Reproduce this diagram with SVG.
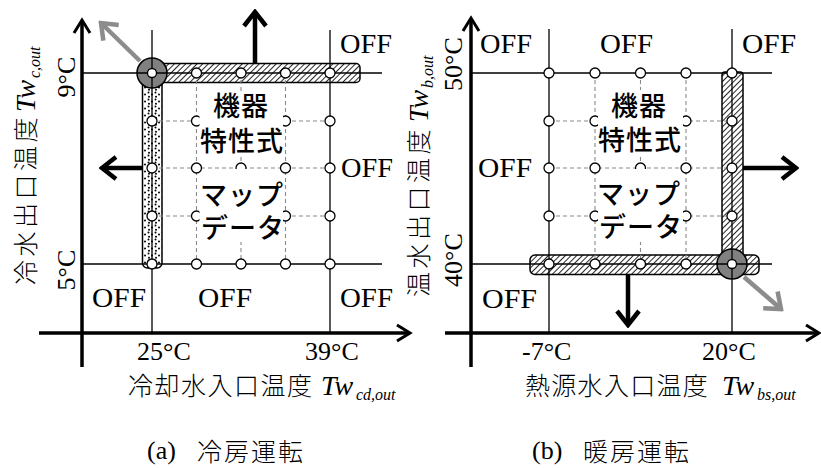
<svg xmlns="http://www.w3.org/2000/svg" width="821" height="468" viewBox="0 0 821 468">
<style>
.axis{stroke:#000;stroke-width:3.5;fill:none}
.ahd{stroke:#000;stroke-width:3;fill:none;stroke-linejoin:miter}
.grid{stroke:#000;stroke-width:1.3;fill:none}
.dash{stroke:#8a8a8a;stroke-width:1.1;stroke-dasharray:4 3;fill:none}
.pt{fill:#fff;stroke:#000;stroke-width:1.3}
.bar{stroke:#000;stroke-width:1.5}
.big{fill:#808080;stroke:#000;stroke-width:1.5}
.box{fill:#fff}
.arr{stroke:#000;stroke-width:4.5;fill:none}
.garr{stroke:#8c8c8c;stroke-width:4.5;fill:none}
.num{font-family:"Liberation Serif",serif;font-size:26px;fill:#000}
.off{font-family:"Liberation Serif",serif;font-size:27px;fill:#000}
.jp{font-family:"Noto Sans CJK JP",sans-serif;font-size:25px;font-weight:300;fill:#000}
.in{font-family:"Noto Sans CJK JP",sans-serif;font-size:27px;font-weight:500;fill:#000;text-anchor:middle}
.it{font-family:"Liberation Serif",serif;font-style:italic;font-size:28px;fill:#000}
.sub{font-family:"Liberation Serif",serif;font-style:italic;font-size:16px;fill:#000}
</style>
<defs>
<pattern id="hatch" width="4" height="4" patternUnits="userSpaceOnUse" patternTransform="rotate(45)">
<rect width="4" height="4" fill="#fff"/>
<line x1="0" y1="0" x2="0" y2="4" stroke="#000" stroke-width="1.7"/>
</pattern>
<pattern id="dots" width="7" height="7" patternUnits="userSpaceOnUse">
<rect width="7" height="7" fill="#fff"/>
<circle cx="1.5" cy="1.5" r="1" fill="#000"/>
<circle cx="5" cy="3.5" r="1" fill="#000"/>
<circle cx="2" cy="5.8" r="1" fill="#000"/>
</pattern>
<marker id="ah" viewBox="-17 -13 20 26" refX="0" refY="0" markerWidth="20" markerHeight="26" markerUnits="userSpaceOnUse" orient="auto">
<path d="M-14,-11 L0,0 L-14,11" fill="none" stroke="#000" stroke-width="4.5"/>
</marker>
<marker id="gah" viewBox="-17 -13 20 26" refX="0" refY="0" markerWidth="20" markerHeight="26" markerUnits="userSpaceOnUse" orient="auto">
<path d="M-14,-11 L0,0 L-14,11" fill="none" stroke="#8c8c8c" stroke-width="4.5"/>
</marker>
</defs>

<!-- Panel (a) -->
<g id="panel-a">
<g id="a-bars">
<rect class="bar" x="150" y="63.5" width="210" height="19" rx="4" fill="url(#hatch)"/>
<rect class="bar" x="142.5" y="80" width="19.5" height="188" rx="5" fill="url(#dots)"/>
<circle class="big" cx="152" cy="73" r="15"/>
</g>
<g id="a-axes">
<line class="axis" x1="82" y1="367" x2="82" y2="22"/>
<path class="ahd" d="M74,33 L82,20 L90,33"/>
<line class="axis" x1="39" y1="333" x2="408" y2="333"/>
<path class="ahd" d="M397,325 L410,333 L397,341"/>
</g>
<g id="a-grid">
<line class="grid" x1="152" y1="30" x2="152" y2="333"/>
<line class="grid" x1="330" y1="30" x2="330" y2="333"/>
<line class="grid" x1="82" y1="73" x2="382" y2="73"/>
<line class="grid" x1="82" y1="264" x2="382" y2="264"/>
<path class="dash" d="M152,121H330M152,168H330M152,216H330M196.5,73V264M241,73V264M285.5,73V264"/>
</g>
<g id="a-points">
<circle class="pt" cx="152" cy="73" r="4.5"/>
<circle class="pt" cx="196.5" cy="73" r="5"/><circle class="pt" cx="241" cy="73" r="5"/><circle class="pt" cx="285.5" cy="73" r="5"/><circle class="pt" cx="330" cy="73" r="5"/>
<circle class="pt" cx="152" cy="121" r="5"/><circle class="pt" cx="196.5" cy="121" r="5"/><circle class="pt" cx="241" cy="121" r="5"/><circle class="pt" cx="285.5" cy="121" r="5"/><circle class="pt" cx="330" cy="121" r="5"/>
<circle class="pt" cx="152" cy="168" r="5"/><circle class="pt" cx="196.5" cy="168" r="5"/><circle class="pt" cx="241" cy="168" r="5"/><circle class="pt" cx="285.5" cy="168" r="5"/><circle class="pt" cx="330" cy="168" r="5"/>
<circle class="pt" cx="152" cy="216" r="5"/><circle class="pt" cx="196.5" cy="216" r="5"/><circle class="pt" cx="241" cy="216" r="5"/><circle class="pt" cx="285.5" cy="216" r="5"/><circle class="pt" cx="330" cy="216" r="5"/>
<circle class="pt" cx="152" cy="264" r="5"/><circle class="pt" cx="196.5" cy="264" r="5"/><circle class="pt" cx="241" cy="264" r="5"/><circle class="pt" cx="285.5" cy="264" r="5"/><circle class="pt" cx="330" cy="264" r="5"/>
</g>
<g id="a-labels">
<rect class="box" x="199.5" y="91" width="83.5" height="66"/>
<rect class="box" x="203" y="169" width="77" height="42"/>
<rect class="box" x="199.5" y="211" width="83.5" height="31"/>
<text class="in" x="241" y="116" letter-spacing="1">機器</text>
<text class="in" x="242" y="151" letter-spacing="1">特性式</text>
<text class="in" x="242" y="205" letter-spacing="1">マップ</text>
<text class="in" x="243" y="238" letter-spacing="1">データ</text>
</g>
<g id="a-arrows">
<line class="arr" x1="255" y1="63" x2="255" y2="12" marker-end="url(#ah)"/>
<line class="arr" x1="142" y1="168" x2="102" y2="168" marker-end="url(#ah)"/>
<line class="garr" x1="140" y1="61" x2="101" y2="23" marker-end="url(#gah)"/>
</g>
<g id="a-text">
<text class="off" x="340" y="53" textLength="52" lengthAdjust="spacingAndGlyphs">OFF</text>
<text class="off" x="341" y="177" textLength="52" lengthAdjust="spacingAndGlyphs">OFF</text>
<text class="off" x="92" y="307" textLength="54" lengthAdjust="spacingAndGlyphs">OFF</text>
<text class="off" x="198" y="307" textLength="54" lengthAdjust="spacingAndGlyphs">OFF</text>
<text class="off" x="340" y="307" textLength="53" lengthAdjust="spacingAndGlyphs">OFF</text>
<text class="num" x="137" y="360">25°C</text>
<text class="num" x="305" y="360">39°C</text>
<text class="num" transform="translate(75,77) rotate(-90)" text-anchor="middle">9°C</text>
<text class="num" transform="translate(75,270) rotate(-90)" text-anchor="middle">5°C</text>
<text class="jp" x="128" y="395" letter-spacing="1.5">冷却水入口温度</text>
<text class="it" x="321" y="395">Tw</text>
<text class="sub" x="356" y="400">cd,out</text>
<g transform="translate(35,285) rotate(-90)">
<text class="jp" x="0" y="0" letter-spacing="3.5">冷水出口温度</text>
<text class="it" x="173" y="0">Tw</text>
<text class="sub" x="207" y="5">c,out</text>
</g>
<text class="num" x="147" y="459">(a)</text>
<text class="jp" x="197" y="461" letter-spacing="2">冷房運転</text>
</g>
</g>

<!-- Panel (b) -->
<g id="panel-b">
<g id="b-bars">
<rect class="bar" x="722" y="72" width="21" height="190" rx="3" fill="url(#hatch)"/>
<rect class="bar" x="530" y="255" width="229" height="19.5" rx="5" fill="url(#hatch)"/>
<circle class="big" cx="732" cy="264" r="15"/>
</g>
<g id="b-axes">
<line class="axis" x1="471" y1="367" x2="471" y2="20"/>
<path class="ahd" d="M463,31 L471,18 L479,31"/>
<line class="axis" x1="445" y1="333" x2="817" y2="333"/>
<path class="ahd" d="M806,325 L819,333 L806,341"/>
</g>
<g id="b-grid">
<line class="grid" x1="549" y1="29" x2="549" y2="333"/>
<line class="grid" x1="732" y1="29" x2="732" y2="333"/>
<line class="grid" x1="471" y1="73" x2="772" y2="73"/>
<line class="grid" x1="471" y1="264" x2="772" y2="264"/>
<path class="dash" d="M549,121H732M549,168H732M549,216H732M595,73V264M640.5,73V264M686,73V264"/>
</g>
<g id="b-points">
<circle class="pt" cx="549" cy="73" r="5"/><circle class="pt" cx="595" cy="73" r="5"/><circle class="pt" cx="640.5" cy="73" r="5"/><circle class="pt" cx="686" cy="73" r="5"/><circle class="pt" cx="732" cy="73" r="5"/>
<circle class="pt" cx="549" cy="121" r="5"/><circle class="pt" cx="595" cy="121" r="5"/><circle class="pt" cx="640.5" cy="121" r="5"/><circle class="pt" cx="686" cy="121" r="5"/><circle class="pt" cx="732" cy="121" r="5"/>
<circle class="pt" cx="549" cy="168" r="5"/><circle class="pt" cx="595" cy="168" r="5"/><circle class="pt" cx="640.5" cy="168" r="5"/><circle class="pt" cx="686" cy="168" r="5"/><circle class="pt" cx="732" cy="168" r="5"/>
<circle class="pt" cx="549" cy="216" r="5"/><circle class="pt" cx="595" cy="216" r="5"/><circle class="pt" cx="640.5" cy="216" r="5"/><circle class="pt" cx="686" cy="216" r="5"/><circle class="pt" cx="732" cy="216" r="5"/>
<circle class="pt" cx="549" cy="264" r="5"/><circle class="pt" cx="595" cy="264" r="5"/><circle class="pt" cx="640.5" cy="264" r="5"/><circle class="pt" cx="686" cy="264" r="5"/><circle class="pt" cx="732" cy="264" r="4.5"/>
</g>
<g id="b-labels">
<rect class="box" x="598" y="90" width="85" height="66"/>
<rect class="box" x="601.5" y="169" width="78" height="41"/>
<rect class="box" x="598" y="210" width="85" height="32"/>
<text class="in" x="639" y="116" letter-spacing="1">機器</text>
<text class="in" x="640" y="150" letter-spacing="1">特性式</text>
<text class="in" x="639" y="204" letter-spacing="1">マップ</text>
<text class="in" x="641" y="237" letter-spacing="1">データ</text>
</g>
<g id="b-arrows">
<line class="arr" x1="743" y1="168" x2="796" y2="168" marker-end="url(#ah)"/>
<line class="arr" x1="628" y1="275" x2="628" y2="325" marker-end="url(#ah)"/>
<line class="garr" x1="744" y1="277" x2="781" y2="309" marker-end="url(#gah)"/>
</g>
<g id="b-text">
<text class="off" x="480" y="53" textLength="52" lengthAdjust="spacingAndGlyphs">OFF</text>
<text class="off" x="600" y="53" textLength="53" lengthAdjust="spacingAndGlyphs">OFF</text>
<text class="off" x="742" y="53" textLength="54" lengthAdjust="spacingAndGlyphs">OFF</text>
<text class="off" x="478" y="177" textLength="54" lengthAdjust="spacingAndGlyphs">OFF</text>
<text class="off" x="482" y="308" textLength="55" lengthAdjust="spacingAndGlyphs">OFF</text>
<text class="num" x="522" y="360">-7°C</text>
<text class="num" x="702" y="360">20°C</text>
<text class="num" transform="translate(462,64) rotate(-90)" text-anchor="middle">50°C</text>
<text class="num" transform="translate(462,260) rotate(-90)" text-anchor="middle">40°C</text>
<text class="jp" x="525" y="395" letter-spacing="1.3">熱源水入口温度</text>
<text class="it" x="722" y="395">Tw</text>
<text class="sub" x="757" y="400">bs,out</text>
<g transform="translate(428,297) rotate(-90)">
<text class="jp" x="0" y="0" letter-spacing="3.5">温水出口温度</text>
<text class="it" x="175" y="0">Tw</text>
<text class="sub" x="209" y="5">b,out</text>
</g>
<text class="num" x="532" y="459">(b)</text>
<text class="jp" x="583" y="461" letter-spacing="2">暖房運転</text>
</g>
</g>
</svg>
